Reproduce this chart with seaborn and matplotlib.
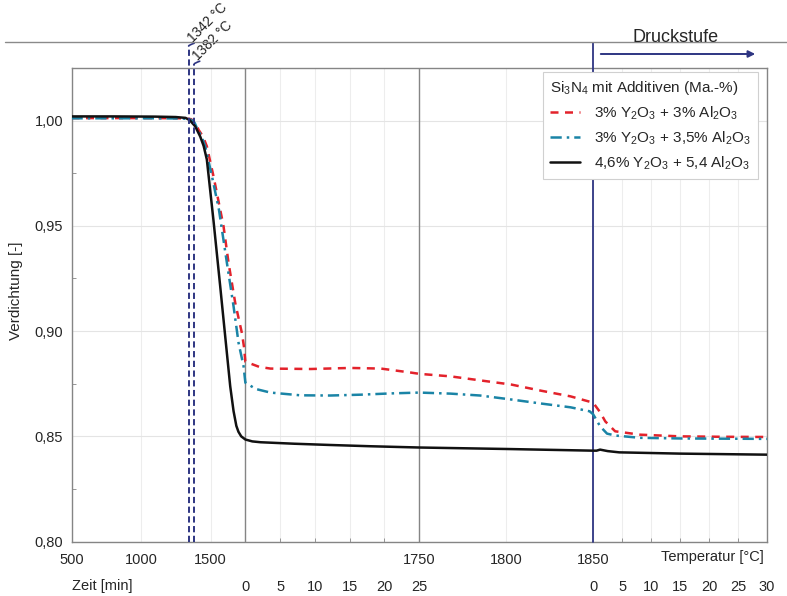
import numpy as np
import pandas as pd
import matplotlib
matplotlib.use("Agg")
import matplotlib.pyplot as plt
import seaborn as sns
from matplotlib.lines import Line2D
from matplotlib.ticker import FuncFormatter, FixedLocator, MultipleLocator

sns.set_style("white")
plt.rcParams["font.family"] = ["Liberation Sans", "DejaVu Sans"]
plt.rcParams["mathtext.default"] = "regular"

# ---------------- data ----------------
series_names = [
    "3% Y$_2$O$_3$ + 3% Al$_2$O$_3$",
    "3% Y$_2$O$_3$ + 3,5% Al$_2$O$_3$",
    "4,6% Y$_2$O$_3$ + 5,4 Al$_2$O$_3$",
]

# Segment A: heating 500 -> 1750 °C (x = temperature)
red_TA = [500, 800, 1100, 1300, 1360, 1390, 1413, 1445, 1473, 1521, 1569, 1593, 1629, 1677, 1710, 1725, 1740, 1750]
red_vA = [1.0012, 1.0012, 1.0012, 1.0011, 1.0007, 0.9990, 0.9957, 0.9925, 0.9878, 0.9735, 0.9577, 0.9498, 0.9324, 0.9134, 0.9035, 0.8991, 0.8925, 0.8855]
teal_TA = [500, 800, 1100, 1300, 1355, 1385, 1405, 1435, 1461, 1510, 1560, 1617, 1665, 1701, 1737, 1750]
teal_vA = [1.0011, 1.0011, 1.0011, 1.0010, 1.0006, 0.9990, 0.9960, 0.9925, 0.9878, 0.9735, 0.9577, 0.9325, 0.9118, 0.8944, 0.8833, 0.8755]
black_TA = [500, 800, 1100, 1250, 1320, 1350, 1389, 1425, 1450, 1473, 1520, 1569, 1605, 1641, 1665, 1685, 1700, 1720, 1750]
black_vA = [1.0020, 1.0020, 1.0019, 1.0017, 1.0013, 1.0002, 0.9973, 0.9925, 0.9880, 0.9815, 0.9530, 0.9213, 0.8975, 0.8738, 0.8620, 0.8550, 0.8522, 0.8500, 0.8485]

# Segment B: hold at 1750 °C, 0 -> 25 min (x = time)
red_tB = [0, 2, 3.6, 9.4, 15.1, 19.5, 23.8, 25]
red_vB = [0.8855, 0.8830, 0.8822, 0.8820, 0.8825, 0.8822, 0.8803, 0.8797]
teal_tB = [0, 1.5, 3.6, 7.9, 12.2, 16.6, 20.9, 25]
teal_vB = [0.8755, 0.8725, 0.8708, 0.8695, 0.8694, 0.8698, 0.8704, 0.8708]
black_tB = [0, 1, 2.2, 7, 12.2, 18, 25]
black_vB = [0.8485, 0.8476, 0.8472, 0.8465, 0.8459, 0.8453, 0.8447]

# Segment C: heating 1750 -> 1850 °C (x = temperature)
red_TC = [1750, 1768, 1785, 1803, 1820, 1837, 1850]
red_vC = [0.8797, 0.8785, 0.8766, 0.8746, 0.8717, 0.8690, 0.8660]
teal_TC = [1750, 1768, 1785, 1803, 1820, 1837, 1848, 1850]
teal_vC = [0.8708, 0.8703, 0.8694, 0.8675, 0.8656, 0.8638, 0.8619, 0.8605]
black_TC = [1750, 1800, 1850]
black_vC = [0.8447, 0.8440, 0.8432]

# Segment D: hold at 1850 °C (Druckstufe), 0 -> 30 min (x = time)
red_tD = [0, 1.2, 2.1, 3.8, 8.1, 15, 22, 30]
red_vD = [0.8660, 0.8615, 0.8571, 0.8524, 0.8508, 0.8500, 0.8498, 0.8497]
teal_tD = [0, 1.2, 2.4, 3.8, 8.1, 15, 22, 30]
teal_vD = [0.8605, 0.8548, 0.8513, 0.8504, 0.8493, 0.8490, 0.8489, 0.8488]
black_tD = [0, 0.6, 1.2, 2.5, 4.5, 15, 30]
black_vD = [0.8432, 0.8432, 0.8437, 0.8430, 0.8424, 0.8418, 0.8413]

marker_temps = [1342, 1382]
marker_labels = ["1342 °C", "1382 °C"]

tempA_ticks = [500, 1000, 1500]
tempC_ticks = [1750, 1800, 1850]
timeB_ticks = [0, 5, 10, 15, 20, 25]
timeD_ticks = [0, 5, 10, 15, 20, 25, 30]
y_ticks = [0.80, 0.85, 0.90, 0.95, 1.00]


# ---------------- composite x scale ----------------
def seg_a(T):
    return (np.asarray(T, float) - 500) / 1250

def seg_b(t):
    return 1 + np.asarray(t, float) / 25

def seg_c(T):
    return 2 + (np.asarray(T, float) - 1750) / 100

def seg_d(t):
    return 3 + np.asarray(t, float) / 30


def build(name, A, vA, B, vB, C, vC, D, vD):
    u = np.concatenate([seg_a(A), seg_b(B), seg_c(C), seg_d(D)])
    v = np.concatenate([vA, vB, vC, vD])
    return pd.DataFrame({"u": u, "v": v, "series": name, "order": np.arange(len(u))})


df = pd.concat([
    build(series_names[0], red_TA, red_vA, red_tB, red_vB, red_TC, red_vC, red_tD, red_vD),
    build(series_names[1], teal_TA, teal_vA, teal_tB, teal_vB, teal_TC, teal_vC, teal_tD, teal_vD),
    build(series_names[2], black_TA, black_vA, black_tB, black_vB, black_TC, black_vC, black_tD, black_vD),
], ignore_index=True)

RED = "#e3222b"
TEAL = "#1a84a6"
BLACK = "#111111"
NAVY = "#2e3582"
GRAYL = "#858585"

palette = {series_names[0]: RED, series_names[1]: TEAL, series_names[2]: BLACK}
dashes = {series_names[0]: (3.2, 2.6), series_names[1]: (4.5, 2.0, 1.0, 2.0), series_names[2]: ""}

fig = plt.figure(figsize=(7.87, 5.96), dpi=100)
W, H = 787, 596
L, R, T, B = 71.5, 767, 68, 541.6
ax = fig.add_axes([L / W, 1 - B / H, (R - L) / W, (B - T) / H])

sns.lineplot(data=df, x="u", y="v", hue="series", style="series", palette=palette,
             dashes=dashes, sort=False, estimator=None, linewidth=1.8, legend=False,
             ax=ax, zorder=5)

ax.set_xlim(0, 4)
ax.set_ylim(0.80, 1.025)
ax.set_xlabel("")
ax.set_ylabel("Verdichtung [-]", fontsize=11)
ax.yaxis.set_label_coords(-0.070, 0.53)

# y axis
ax.yaxis.set_major_locator(FixedLocator(y_ticks))
ax.yaxis.set_minor_locator(MultipleLocator(0.025))
ax.yaxis.set_major_formatter(FuncFormatter(lambda v, p: f"{v:.2f}".replace(".", ",")))
ax.tick_params(axis="y", which="major", direction="out", length=4, width=0.8, color=GRAYL,
               labelsize=10.5, pad=2)
ax.tick_params(axis="y", which="minor", direction="in", length=3, width=0.6, color=GRAYL, left=True)

# x axis row 1 (temperatures)
major_u = list(seg_a(tempA_ticks)) + list(seg_c(tempC_ticks))
major_lbl = [str(v) for v in tempA_ticks + tempC_ticks]
ax.set_xticks(major_u, major_lbl)
minor_u = [u for u in list(seg_b(timeB_ticks)) + list(seg_d(timeD_ticks)) if u not in major_u]
ax.xaxis.set_minor_locator(FixedLocator(minor_u))
ax.tick_params(axis="x", which="major", direction="in", length=4, width=0.8, color=GRAYL,
               labelsize=10.5, pad=8)
ax.tick_params(axis="x", which="minor", direction="in", length=3, width=0.6, color=GRAYL, bottom=True)

# grid
ax.yaxis.grid(True, which="major", color="#e4e4e4", lw=0.8)
ax.xaxis.grid(True, which="both", color="#ededed", lw=0.8)
ax.set_axisbelow(True)

for s in ax.spines.values():
    s.set_color(GRAYL)
    s.set_linewidth(1.0)

# x axis row 2 (times)
sec = ax.secondary_xaxis(-0.0747)
sec_u = list(seg_b(timeB_ticks)) + list(seg_d(timeD_ticks))
sec_lbl = [str(v) for v in timeB_ticks + timeD_ticks]
sec.set_xticks(sec_u, sec_lbl)
sec.tick_params(length=0, pad=2, labelsize=10.5)
sec.spines["bottom"].set_visible(False)

xtr = ax.get_xaxis_transform()
ax.text((712 - L) / (R - L) * 4, -0.032, "Temperatur [°C]", transform=xtr, ha="center", va="center",
        fontsize=10.5)
ax.text(-0.0, -0.094, "Zeit [min]", transform=xtr, ha="left", va="center", fontsize=10.5)

# segment boundaries
ax.axvline(seg_b(0), color=GRAYL, lw=1.0, zorder=3)
ax.axvline(seg_c(1750), color=GRAYL, lw=1.0, zorder=3)
ax.axvline(seg_d(0), ymin=0, ymax=(B - 43) / (B - T), color=NAVY, lw=1.3, clip_on=False, zorder=3)

# dashed temperature markers
tops = [(B - 46) / (B - T), (B - 64) / (B - T)]
for Tm, lab, top in zip(marker_temps, marker_labels, tops):
    um = float(seg_a(Tm))
    ax.axvline(um, ymin=0, ymax=top, color=NAVY, lw=1.4, dashes=(3.2, 1.8), clip_on=False, zorder=6)
    ax.annotate("", xy=(um, top), xycoords=xtr, xytext=(4.0, 2.0), textcoords="offset points",
                arrowprops=dict(arrowstyle="-", color=NAVY, lw=1.2, shrinkA=0, shrinkB=0,
                                connectionstyle="angle3,angleA=20,angleB=90"))
    ax.annotate(lab, xy=(um, top), xycoords=xtr, xytext=(4.5, 0.5), textcoords="offset points",
                rotation=45, rotation_mode="anchor", ha="left", va="bottom", fontsize=9.8,
                color="#222222")

# Druckstufe header
fig.add_artist(Line2D([5 / W, 1.0], [1 - 42 / H, 1 - 42 / H], transform=fig.transFigure,
                      color="#8a8a8a", lw=1.0))
fig.text(676 / W, 1 - 37 / H, "Druckstufe", ha="center", va="center", fontsize=13)
fig.add_artist(matplotlib.patches.FancyArrowPatch((598 / W, 1 - 54 / H), (758 / W, 1 - 54 / H),
                                                  transform=fig.transFigure, arrowstyle="-|>",
                                                  mutation_scale=10, color=NAVY, lw=1.4))

# legend
handles = [Line2D([], [], color=RED, lw=1.8, dashes=dashes[series_names[0]]),
           Line2D([], [], color=TEAL, lw=1.8, dashes=dashes[series_names[1]]),
           Line2D([], [], color=BLACK, lw=1.8)]
leg = ax.legend(handles, series_names, title="Si$_3$N$_4$ mit Additiven (Ma.-%)",
                loc="upper right", bbox_to_anchor=((758 - L) / (R - L), (B - 72) / (B - T)),
                borderaxespad=0, fontsize=11, title_fontsize=11, alignment="left",
                frameon=True, fancybox=False, edgecolor="#d0d0d0", framealpha=1,
                handlelength=2.0, handletextpad=0.9, labelspacing=0.5, borderpad=0.45)
leg.get_frame().set_linewidth(0.8)
leg.set_zorder(10)

fig.savefig("out.png", dpi=100)
